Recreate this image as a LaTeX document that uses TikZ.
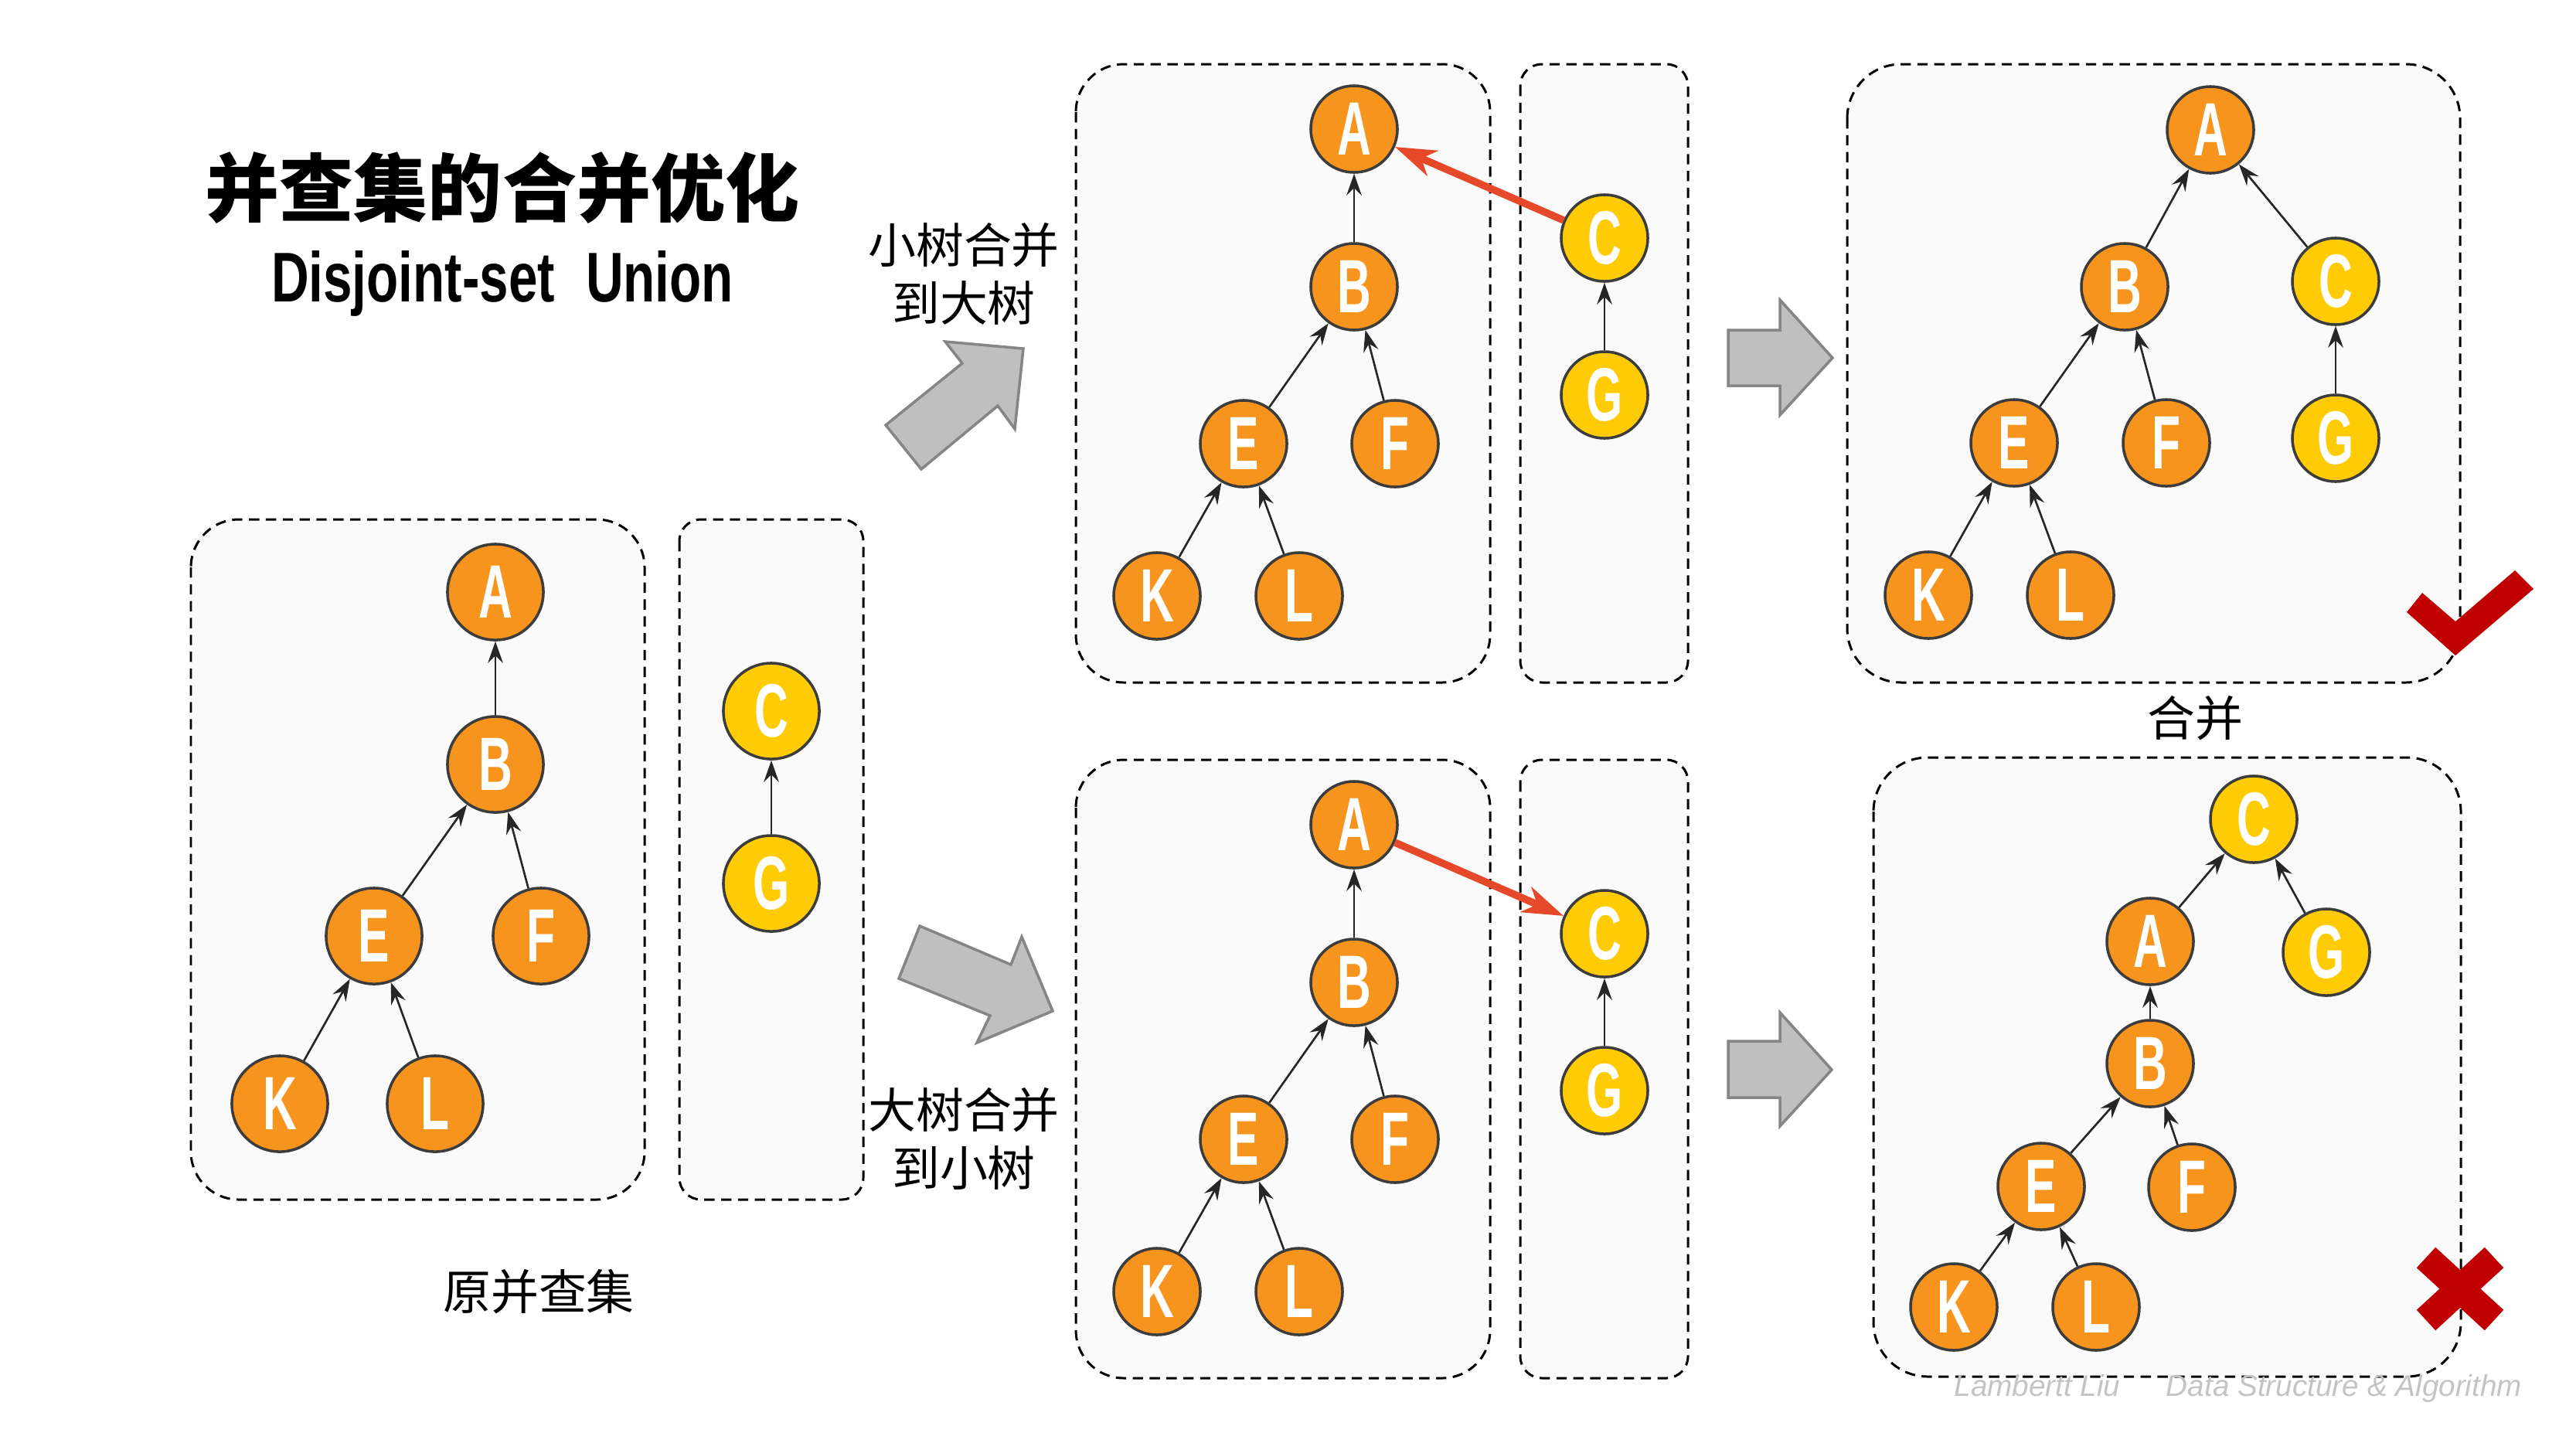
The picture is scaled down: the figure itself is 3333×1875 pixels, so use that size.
\documentclass[tikz,border=0pt]{standalone}
\usepackage{fontspec}
\usetikzlibrary{arrows.meta}
\newfontfamily\cjk{Noto Sans CJK SC}
\newfontfamily\nodefont[FakeStretch=0.62]{Liberation Sans Bold}
\newfontfamily\entitle[FakeStretch=0.74]{Liberation Sans Bold}
\newfontfamily\wmfont{Liberation Sans Italic}
\definecolor{orangec}{HTML}{F7941E}
\definecolor{yellowc}{HTML}{FFCB05}
\definecolor{ncirc}{HTML}{3C3C3C}
\definecolor{panelbg}{HTML}{FAFAFA}
\definecolor{redc}{HTML}{E5492A}
\definecolor{markred}{HTML}{C00000}
\definecolor{grayfill}{HTML}{BFBFBF}
\definecolor{grayline}{HTML}{858585}
\definecolor{wmgray}{HTML}{C4C4C4}
\definecolor{edgec}{HTML}{262626}
\begin{document}
\begin{tikzpicture}[x=0.01cm,y=-0.01cm,
  panel/.style={draw=black, fill=panelbg, dash pattern=on 3.8pt off 2.4pt, line width=0.85pt},
  tn/.style={circle, draw=ncirc, line width=1pt, fill=orangec, minimum size=1.12cm, inner sep=0pt, text=white, font={\nodefont\fontsize{27.8pt}{28pt}\selectfont}},
  tny/.style={tn, fill=yellowc},
  big/.style={minimum size=1.24cm},
  edge/.style={draw=edgec, line width=0.75pt, -{Stealth[length=8pt,width=5.6pt,inset=2.8pt]}},
  redarrow/.style={draw=redc, line width=2.7pt, -{Stealth[length=15pt,width=10pt,inset=4.5pt]}},
  blockarrow/.style={fill=grayfill, draw=grayline, line width=1pt, line join=miter},
  lbl/.style={font={\cjk\fontsize{17.6pt}{21.3pt}\selectfont}, align=center, inner sep=0pt},
  markfill/.style={fill=markred, draw=none}
]
\fill[white] (0,0) rectangle (3333,1875);
\useasboundingbox (0,0) rectangle (3333,1875);

% panels
\draw[panel, rounded corners=0.62cm] (247,672) rectangle (834,1552);
\draw[panel, rounded corners=0.28cm] (879,672) rectangle (1117,1552);
\draw[panel, rounded corners=0.62cm] (1392,83) rectangle (1928,883);
\draw[panel, rounded corners=0.28cm] (1967,83) rectangle (2184,883);
\draw[panel, rounded corners=0.62cm] (1392,983) rectangle (1928,1783);
\draw[panel, rounded corners=0.28cm] (1967,983) rectangle (2184,1783);
\draw[panel, rounded corners=0.7cm] (2390,83) rectangle (3183,883);
\draw[panel, rounded corners=0.7cm] (2424,980) rectangle (3184,1781);

% titles and labels
\node[font={\cjk\bfseries\fontsize{27.3pt}{30pt}\selectfont}] (title) at (650,243) {并查集的合并优化};
\node[font={\entitle\fontsize{25.9pt}{28pt}\selectfont}, anchor=base] (subtitle) at (650,390) {Disjoint-set\hspace{0.4cm}Union};
\node[lbl] (lblsmall) at (1247,354) {小树合并\\到大树};
\node[lbl] (lblbig) at (1247,1473) {大树合并\\到小树};
\node[lbl] (lblorig) at (697,1671) {原并查集};
\node[lbl] (lblmerge) at (2840,929) {合并};
\node[font={\wmfont\fontsize{11pt}{12pt}\selectfont}, text=wmgray, anchor=base] (wm1) at (2636,1806) {Lambertt Liu};
\node[font={\wmfont\fontsize{11pt}{12pt}\selectfont}, text=wmgray, anchor=base] (wm2) at (3033,1806) {Data Structure \& Algorithm};

% block arrows
\draw[blockarrow] (1146,550) -- (1245,470) -- (1223,442) -- (1324,451) -- (1313,555) -- (1291,525) -- (1192,607) -- cycle;
\draw[blockarrow] (1190,1198) -- (1308,1248) -- (1322,1212) -- (1362,1308) -- (1264,1349) -- (1281,1314) -- (1163,1266) -- cycle;
\draw[blockarrow] (2236,427) -- (2303,427) -- (2303,388) -- (2371,463) -- (2303,537) -- (2303,499) -- (2236,499) -- cycle;
\draw[blockarrow] (2236,1347) -- (2303,1347) -- (2303,1310) -- (2370,1384) -- (2303,1457) -- (2303,1420) -- (2236,1420) -- cycle;

% original trees
\node[tn,big] (A0) at (641,766) {A};
\node[tn,big] (B0) at (641,989) {B};
\node[tn,big] (E0) at (484,1211) {E};
\node[tn,big] (F0) at (700,1211) {F};
\node[tn,big] (K0) at (362,1428) {K};
\node[tn,big] (L0) at (563,1428) {L};
\node[tny,big] (C0) at (998,920) {C};
\node[tny,big] (G0) at (998,1143) {G};
\foreach \c/\p in {B0/A0,E0/B0,F0/B0,K0/E0,L0/E0,G0/C0} \draw[edge] (\c) -- (\p);

% top middle
\node[tn] (A1) at (1752,167) {A};
\node[tn] (B1) at (1752,371) {B};
\node[tn] (E1) at (1609,574) {E};
\node[tn] (F1) at (1805,574) {F};
\node[tn] (K1) at (1497,771) {K};
\node[tn] (L1) at (1681,771) {L};
\node[tny] (C1) at (2076,308) {C};
\node[tny] (G1) at (2076,511) {G};
\foreach \c/\p in {B1/A1,E1/B1,F1/B1,K1/E1,L1/E1,G1/C1} \draw[edge] (\c) -- (\p);
\draw[redarrow] (C1) -- (A1);

% bottom middle
\node[tn] (A2) at (1752,1067) {A};
\node[tn] (B2) at (1752,1271) {B};
\node[tn] (E2) at (1609,1474) {E};
\node[tn] (F2) at (1805,1474) {F};
\node[tn] (K2) at (1497,1671) {K};
\node[tn] (L2) at (1681,1671) {L};
\node[tny] (C2) at (2076,1208) {C};
\node[tny] (G2) at (2076,1411) {G};
\foreach \c/\p in {B2/A2,E2/B2,F2/B2,K2/E2,L2/E2,G2/C2} \draw[edge] (\c) -- (\p);
\draw[redarrow] (A2) -- (C2);

% top right
\node[tn] (A3) at (2860,168) {A};
\node[tn] (B3) at (2749,371) {B};
\node[tny] (C3) at (3022,364) {C};
\node[tn] (E3) at (2606,573) {E};
\node[tn] (F3) at (2803,573) {F};
\node[tny] (G3) at (3022,567) {G};
\node[tn] (K3) at (2495,770) {K};
\node[tn] (L3) at (2679,770) {L};
\foreach \c/\p in {B3/A3,C3/A3,E3/B3,F3/B3,K3/E3,L3/E3,G3/C3} \draw[edge] (\c) -- (\p);

% bottom right
\node[tny] (C4) at (2916,1060) {C};
\node[tn] (A4) at (2782,1218) {A};
\node[tny] (G4) at (3010,1232) {G};
\node[tn] (B4) at (2782,1376) {B};
\node[tn] (E4) at (2641,1535) {E};
\node[tn] (F4) at (2836,1536) {F};
\node[tn] (K4) at (2528,1691) {K};
\node[tn] (L4) at (2712,1691) {L};
\foreach \c/\p in {A4/C4,G4/C4,B4/A4,E4/B4,F4/B4,K4/E4,L4/E4} \draw[edge] (\c) -- (\p);

% check mark and cross
\fill[markfill] (3114,792) -- (3134,767) -- (3177,804) -- (3254,738) -- (3278,762) -- (3177,848) -- cycle;
\draw[markred, line width=0.36cm] (3139,1627) -- (3227,1708);
\draw[markred, line width=0.36cm] (3227,1627) -- (3139,1708);
\end{tikzpicture}
\end{document}
